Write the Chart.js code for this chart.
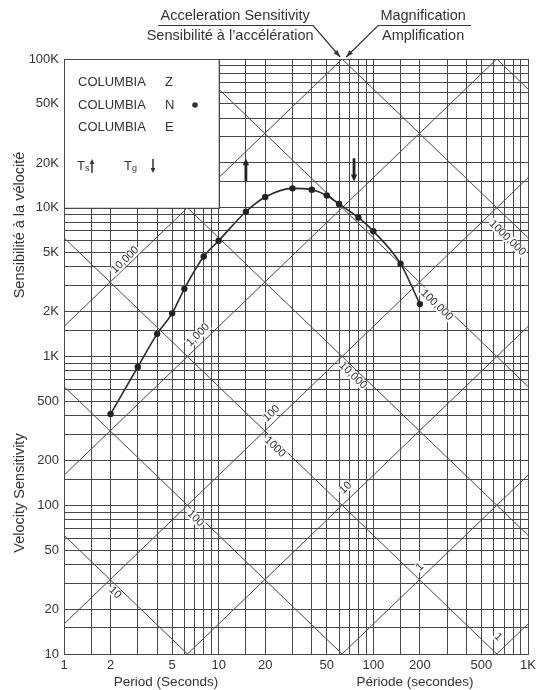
<!DOCTYPE html>
<html>
<head>
<meta charset="utf-8">
<script src="https://cdn.jsdelivr.net/npm/chart.js@4.4.0/dist/chart.umd.min.js"></script>
<style>
  html, body { margin: 0; padding: 0; background: #fff; }
</style>
</head>
<body>
<canvas id="sensChart" width="551" height="690"></canvas>
<script>
// COLUMBIA N response
const periods = [2, 3, 4, 5, 6, 8, 10, 15, 20, 30, 40, 50, 60, 80, 100, 150, 200];
const sensitivityN = [410, 850, 1420, 1950, 2850, 4700, 6000, 9400, 11800, 13500, 13200, 12100, 10600, 8600, 6950, 4200, 2250];

// axis labels
const xLabelValues = [1, 2, 5, 10, 20, 50, 100, 200, 500, 1000];
const xLabelText = ['1', '2', '5', '10', '20', '50', '100', '200', '500', '1K'];
const yLabelValues = [10, 20, 50, 100, 200, 500, 1000, 2000, 5000, 10000, 20000, 50000, 100000];
const yLabelText = ['10', '20', '50', '100', '200', '500', '1K', '2K', '5K', '10K', '20K', '50K', '100K'];

// log paper rulings inside each decade
const rulings = [1, 1.5, 2, 3, 4, 5, 6, 7, 8, 9];
const xDecades = [1, 10, 100];
const yDecades = [10, 100, 1000, 10000];

// diagonal lines: magnification (rising) and acceleration sensitivity (falling)
const magnificationLevels = [0.1, 1, 10, 100, 1000, 10000, 100000];
const accelerationLevels = [10, 100, 1000, 10000, 100000, 1000000, 10000000];

// line labels: text and centre (period, sensitivity)
const magLabelText = ['10,000', '1,000', '100', '10', '1'];
const magLabelAt = [[2.48, 4457], [7.35, 1396], [21.96, 414], [66.1, 131], [200, 38.5]];
const accLabelText = ['1000,000', '100,000', '10,000', '1000', '100', '10', '1'];
const accLabelAt = [[736, 6266], [257, 2218], [73.9, 745], [23.1, 246], [7.08, 81.5], [2.14, 25.9], [640, 13]];

// seismometer / galvanometer periods
const tsPeriod = 15;
const tgPeriod = 75;

const xGrid = [];
xDecades.forEach(d => rulings.forEach(r => xGrid.push(d * r)));
xGrid.push(1000);
const yGrid = [];
yDecades.forEach(d => rulings.forEach(r => yGrid.push(d * r)));
yGrid.push(100000);

const lineColor = '#474747';
const inkColor = '#333';
const fontFamily = '"Liberation Sans", Arial, Helvetica, sans-serif';
Chart.defaults.font.family = fontFamily;
Chart.defaults.color = inkColor;

function arrowHead(ctx, x0, y0, x1, y1, len, half) {
    const a = Math.atan2(y1 - y0, x1 - x0);
    ctx.beginPath();
    ctx.moveTo(x1, y1);
    ctx.lineTo(x1 - len * Math.cos(a) + half * Math.sin(a), y1 - len * Math.sin(a) - half * Math.cos(a));
    ctx.lineTo(x1 - len * Math.cos(a) - half * Math.sin(a), y1 - len * Math.sin(a) + half * Math.cos(a));
    ctx.closePath();
    ctx.fill();
}

function arrow(ctx, x0, y0, x1, y1, width, len, half) {
    ctx.lineWidth = width;
    ctx.beginPath();
    ctx.moveTo(x0, y0);
    ctx.lineTo(x1 - (x1 - x0) * 0.2, y1 - (y1 - y0) * 0.2);
    ctx.stroke();
    arrowHead(ctx, x0, y0, x1, y1, len, half);
}

const overlay = {
    id: 'overlay',
    beforeDatasetsDraw(chart) {
        const { ctx, chartArea: a, scales: { x, y } } = chart;
        ctx.save();
        ctx.beginPath();
        ctx.rect(a.left, a.top, a.right - a.left, a.bottom - a.top);
        ctx.clip();
        ctx.strokeStyle = lineColor;
        ctx.lineWidth = 1;
        const line = f => {
            ctx.beginPath();
            ctx.moveTo(x.getPixelForValue(1), y.getPixelForValue(f(1)));
            ctx.lineTo(x.getPixelForValue(1000), y.getPixelForValue(f(1000)));
            ctx.stroke();
        };
        magnificationLevels.forEach(m => line(t => m * t / (2 * Math.PI)));
        accelerationLevels.forEach(g => line(t => 2 * Math.PI * g / t));

        // labels along the diagonals
        const ang = Math.atan2(y.getPixelForValue(1000) - y.getPixelForValue(100), x.getPixelForValue(100) - x.getPixelForValue(10));
        ctx.font = '11px ' + fontFamily;
        ctx.textAlign = 'center';
        ctx.textBaseline = 'middle';
        const label = (txt, at, rot) => {
            ctx.save();
            ctx.translate(x.getPixelForValue(at[0]), y.getPixelForValue(at[1]));
            ctx.rotate(rot);
            const w = ctx.measureText(txt).width;
            ctx.fillStyle = '#fff';
            ctx.fillRect(-w / 2 - 1, -5, w + 2, 10);
            ctx.fillStyle = inkColor;
            ctx.fillText(txt, 0, 0);
            ctx.restore();
        };
        magLabelText.forEach((t, i) => label(t, magLabelAt[i], ang));
        accLabelText.forEach((t, i) => label(t, accLabelAt[i], -ang));
        ctx.restore();

        // legend box in the upper-left decade
        const bx0 = x.getPixelForValue(1), bx1 = x.getPixelForValue(10);
        const by0 = y.getPixelForValue(100000), by1 = y.getPixelForValue(10000);
        ctx.save();
        ctx.fillStyle = '#fff';
        ctx.fillRect(bx0, by0, bx1 - bx0, by1 - by0);
        ctx.strokeStyle = lineColor;
        ctx.lineWidth = 1;
        ctx.strokeRect(Math.round(bx0) + 0.5, Math.round(by0) + 0.5, Math.round(bx1 - bx0), Math.round(by1 - by0));
        ctx.fillStyle = inkColor;
        ctx.strokeStyle = inkColor;
        ctx.font = '13px ' + fontFamily;
        ctx.textAlign = 'left';
        ctx.textBaseline = 'middle';
        const rows = [['Z', 23], ['N', 46], ['E', 68]];
        rows.forEach(r => {
            ctx.fillText('COLUMBIA', bx0 + 14, by0 + r[1]);
            ctx.fillText(r[0], bx0 + 101, by0 + r[1]);
        });
        ctx.beginPath();
        ctx.arc(bx0 + 131, by0 + 46, 2.8, 0, Math.PI * 2);
        ctx.fill();
        const ty = by0 + 107;
        ctx.fillText('T', bx0 + 13, ty);
        ctx.font = '9px ' + fontFamily;
        ctx.fillText('s', bx0 + 21, ty + 3);
        ctx.font = '13px ' + fontFamily;
        ctx.fillText('T', bx0 + 60, ty);
        ctx.font = '9px ' + fontFamily;
        ctx.fillText('g', bx0 + 68, ty + 3);
        arrow(ctx, bx0 + 28, ty + 7, bx0 + 28, ty - 7, 1.5, 5, 2.4);
        arrow(ctx, bx0 + 89, ty - 7, bx0 + 89, ty + 7, 1.5, 5, 2.4);
        ctx.restore();
    },
    afterDatasetsDraw(chart) {
        const { ctx, scales: { x, y } } = chart;
        ctx.save();
        ctx.fillStyle = '#222';
        ctx.strokeStyle = '#222';
        const xs = x.getPixelForValue(tsPeriod), xg = x.getPixelForValue(tgPeriod);
        arrow(ctx, xs, y.getPixelForValue(15000), xs, y.getPixelForValue(21500), 2.8, 7, 3.2);
        arrow(ctx, xg, y.getPixelForValue(21500), xg, y.getPixelForValue(15000), 2.8, 7, 3.2);
        ctx.restore();
    },
    afterDraw(chart) {
        const { ctx, scales: { x, y } } = chart;
        const ix = x.getPixelForValue(20 * Math.PI), iy = y.getPixelForValue(100000);
        ctx.save();
        ctx.fillStyle = inkColor;
        ctx.strokeStyle = inkColor;
        ctx.textAlign = 'center';
        ctx.textBaseline = 'middle';
        ctx.font = '14.5px ' + fontFamily;
        ctx.fillText('Acceleration Sensitivity', ix - 107, 16);
        ctx.fillText('Sensibilité à l\u2019accélération', ix - 112, 36);
        ctx.fillText('Magnification', ix + 81, 16);
        ctx.fillText('Amplification', ix + 81, 36);
        ctx.lineWidth = 1.2;
        ctx.beginPath();
        ctx.moveTo(ix - 184, 25.5);
        ctx.lineTo(ix - 29, 25.5);
        ctx.lineTo(ix - 2, iy - 2);
        ctx.stroke();
        arrowHead(ctx, ix - 29, 25.5, ix - 2, iy - 2, 7, 2.5);
        ctx.beginPath();
        ctx.moveTo(ix + 129, 25.5);
        ctx.lineTo(ix + 36, 25.5);
        ctx.lineTo(ix + 4, iy - 2);
        ctx.stroke();
        arrowHead(ctx, ix + 36, 25.5, ix + 4, iy - 2, 7, 2.5);

        // axis titles, English and French halves
        ctx.font = '13.5px ' + fontFamily;
        ctx.fillText('Period (Seconds)', 166, 682);
        ctx.fillText('Période (secondes)', 415, 682);
        ctx.font = '14.5px ' + fontFamily;
        ctx.save();
        ctx.translate(20, 225);
        ctx.rotate(-Math.PI / 2);
        ctx.fillText('Sensibilité à la vélocité', 0, 0);
        ctx.restore();
        ctx.save();
        ctx.translate(20, 493);
        ctx.rotate(-Math.PI / 2);
        ctx.fillText('Velocity Sensitivity', 0, 0);
        ctx.restore();
        ctx.restore();
    }
};

const ctx = document.getElementById('sensChart').getContext('2d');
const sensChart = new Chart(ctx, {
    type: 'line',
    data: {
        datasets: [{
            label: 'COLUMBIA N',
            data: periods.map((p, i) => ({ x: p, y: sensitivityN[i] })),
            borderColor: '#2a2a2a',
            borderWidth: 1.6,
            pointRadius: 3.2,
            pointBackgroundColor: '#222',
            pointBorderWidth: 0,
            cubicInterpolationMode: 'monotone',
            fill: false
        }]
    },
    options: {
        responsive: false,
        animation: false,
        devicePixelRatio: 1,
        layout: { padding: { top: 59, right: 23, left: 0, bottom: 0 } },
        plugins: { legend: { display: false }, tooltip: { enabled: false } },
        scales: {
            x: {
                type: 'logarithmic',
                min: 1,
                max: 1000,
                afterBuildTicks: s => { s.ticks = xGrid.map(v => ({ value: v })); },
                afterFit: s => { s.height = 36; },
                grid: { color: lineColor, lineWidth: 1, drawTicks: false },
                border: { color: lineColor },
                ticks: {
                    autoSkip: false,
                    maxRotation: 0,
                    padding: 4,
                    color: inkColor,
                    font: { size: 13 },
                    callback: v => { const i = xLabelValues.indexOf(v); return i < 0 ? '' : xLabelText[i]; }
                }
            },
            y: {
                type: 'logarithmic',
                min: 10,
                max: 100000,
                afterBuildTicks: s => { s.ticks = yGrid.map(v => ({ value: v })); },
                afterFit: s => { s.width = 64; },
                grid: { color: lineColor, lineWidth: 1, drawTicks: false },
                border: { color: lineColor },
                ticks: {
                    autoSkip: false,
                    padding: 5,
                    color: inkColor,
                    font: { size: 13 },
                    callback: v => { const i = yLabelValues.indexOf(v); return i < 0 ? '' : yLabelText[i]; }
                }
            }
        }
    },
    plugins: [overlay]
});
</script>
</body>
</html>
